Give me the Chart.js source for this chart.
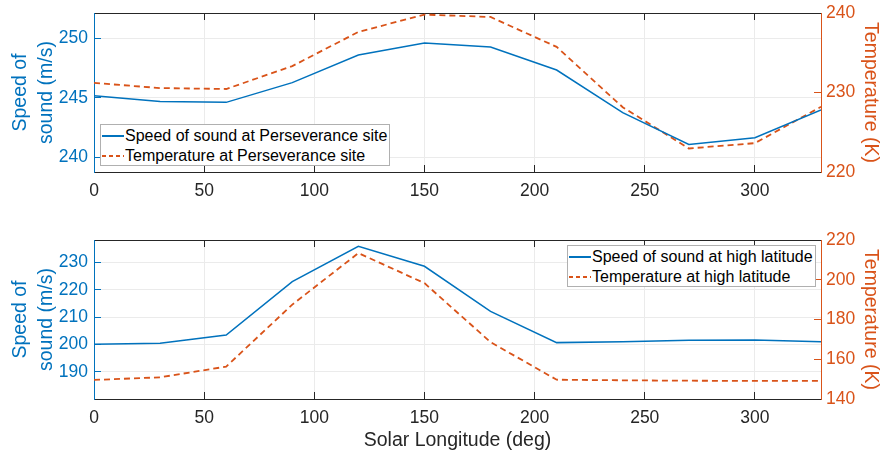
<!DOCTYPE html>
<html>
<head>
<meta charset="utf-8">
<script src="https://cdn.jsdelivr.net/npm/chart.js@4.4.1/dist/chart.umd.min.js"></script>
<style>
  html, body { margin: 0; padding: 0; background: #ffffff; }
  body { width: 890px; height: 454px; position: relative; overflow: hidden;
         font-family: "Liberation Sans", Arial, Helvetica, sans-serif; }
  .panel { position: absolute; left: 0; width: 890px; }
  canvas { display: block; }
  .legend { position: absolute; background: #ffffff; border: 1px solid #b0b0b0;
            box-sizing: border-box; font-size: 16px; color: #000000; }
  .legend .row { position: absolute; left: 0; height: 20px; display: flex;
                 align-items: center; white-space: nowrap; }
  .legend svg { display: block; }
</style>
</head>
<body>
<div class="panel" style="top:0;height:205px"><canvas id="topPanel" width="890" height="205"></canvas></div>
<div class="panel" style="top:205px;height:249px"><canvas id="lowPanel" width="890" height="249"></canvas></div>
<div id="topLegend" class="legend" style="left:100px;top:124px;width:290px;height:42px"></div>
<div id="lowLegend" class="legend" style="left:567px;top:245px;width:249px;height:42px"></div>

<script>
// Solar longitude samples (deg)
const solarLongitude = [0, 30, 60, 90, 120, 150, 180, 210, 240, 270, 300, 330];

// Perseverance site
const soundPerseverance = [245.19, 244.71, 244.63, 246.29, 248.61, 249.62, 249.29, 247.35, 243.76, 241.08, 241.66, 243.99];
const tempPerseverance  = [231.2, 230.56, 230.44, 233.32, 237.62, 239.8, 239.5, 235.74, 228.15, 222.96, 223.63, 228.2];

// High latitude
const soundHighLat = [200.1, 200.5, 203.5, 223.0, 235.9, 228.6, 212.1, 200.7, 201.0, 201.6, 201.7, 201.0];
const tempHighLat  = [149.6, 150.9, 156.3, 187.5, 213.4, 198.3, 168.6, 149.7, 149.4, 149.2, 149.1, 149.1];

// Tick values
const xTicks        = [0, 50, 100, 150, 200, 250, 300];
const topSoundTicks = [240, 245, 250];
const topTempTicks  = [220, 230, 240];
const lowSoundTicks = [190, 200, 210, 220, 230];
const lowTempTicks  = [140, 160, 180, 200, 220];

// Legend / axis texts
const topLabels = ['Speed of sound at Perseverance site', 'Temperature at Perseverance site'];
const lowLabels = ['Speed of sound at high latitude', 'Temperature at high latitude'];
const soundTitle = ['Speed of', 'sound (m/s)'];
const tempTitle = 'Temperature (K)';
const xTitle = 'Solar Longitude (deg)';

const BLUE = '#0072BD';
const RED = '#D95319';
const DARK = '#262626';
const GRID = '#ebebeb';
const FAMILY = '"Liberation Sans", Arial, Helvetica, sans-serif';
const TICK_FONT = { family: FAMILY, size: 17.5, lineHeight: 1.2 };
const TITLE_FONT = { family: FAMILY, size: 19.5, lineHeight: 1.3 };

function pairs(values) {
  return solarLongitude.map((x, i) => ({ x: x, y: values[i] }));
}

function fixedTicks(values) {
  return function (scale) { scale.ticks = values.map(v => ({ value: v })); };
}

// Fixed scale thickness; label overhang must not push the plot area around
function fixedSize(prop, size) {
  return function (s) {
    s[prop] = size;
    s.paddingTop = 0; s.paddingBottom = 0; s.paddingLeft = 0; s.paddingRight = 0;
  };
}

function buildPanel(canvasId, cfg) {
  return new Chart(document.getElementById(canvasId), {
    type: 'line',
    data: {
      datasets: [
        { label: cfg.labels[0], data: pairs(cfg.sound), xAxisID: 'x', yAxisID: 'y',
          borderColor: BLUE, borderWidth: 1.5, pointRadius: 0, tension: 0, fill: false },
        { label: cfg.labels[1], data: pairs(cfg.temp), xAxisID: 'x', yAxisID: 'y2',
          borderColor: RED, borderWidth: 1.8, borderDash: [6, 4], pointRadius: 0, tension: 0, fill: false }
      ]
    },
    options: {
      responsive: false,
      animation: false,
      devicePixelRatio: 1,
      layout: { autoPadding: false, padding: { top: cfg.padTop, left: 0, right: 0, bottom: 0 } },
      plugins: { legend: { display: false }, tooltip: { enabled: false } },
      scales: {
        x: {
          type: 'linear', position: 'bottom', min: 0, max: 330,
          afterBuildTicks: fixedTicks(xTicks),
          afterFit: fixedSize('height', cfg.xHeight),
          grid: {
            color: c => (c.tick && c.tick.value === 0) ? 'rgba(0,0,0,0)' : GRID,
            lineWidth: 1, tickLength: -7, tickColor: DARK
          },
          border: { color: DARK, width: 1 },
          ticks: { color: DARK, font: TICK_FONT, padding: 15.5, maxRotation: 0, autoSkip: false },
          title: cfg.showXTitle
            ? { display: true, text: xTitle, color: DARK, font: TITLE_FONT, padding: { top: 0, bottom: 1 } }
            : { display: false }
        },
        xTop: {
          type: 'linear', position: 'top', min: 0, max: 330,
          afterBuildTicks: fixedTicks(xTicks),
          afterFit: fixedSize('height', 0),
          grid: { drawOnChartArea: false, tickLength: -7, tickColor: DARK },
          border: { color: DARK, width: 1 },
          ticks: { display: false, autoSkip: false }
        },
        y: {
          type: 'linear', position: 'left', min: cfg.soundRange[0], max: cfg.soundRange[1],
          afterBuildTicks: fixedTicks(cfg.soundTicks),
          afterFit: fixedSize('width', 94),
          grid: { color: GRID, lineWidth: 1, tickLength: -7, tickColor: BLUE },
          border: { color: BLUE, width: 1 },
          ticks: { color: BLUE, font: TICK_FONT, padding: 13, autoSkip: false },
          title: { display: true, text: soundTitle, color: BLUE, font: TITLE_FONT, padding: { top: 8.3, bottom: 0 } }
        },
        y2: {
          type: 'linear', position: 'right', min: cfg.tempRange[0], max: cfg.tempRange[1],
          afterBuildTicks: fixedTicks(cfg.tempTicks),
          afterFit: fixedSize('width', 69),
          grid: { drawOnChartArea: false, tickLength: -7, tickColor: RED },
          border: { color: RED, width: 1 },
          ticks: { color: RED, font: TICK_FONT, padding: 12, autoSkip: false },
          title: { display: true, text: tempTitle, color: RED, font: TITLE_FONT, padding: { top: 7.3, bottom: 0 } }
        }
      }
    }
  });
}

function buildLegend(el, chart) {
  chart.data.datasets.forEach((ds, i) => {
    const row = document.createElement('div');
    row.className = 'row';
    row.style.top = (1 + 20 * i) + 'px';
    const dash = ds.borderDash ? ' stroke-dasharray="4 3"' : '';
    row.innerHTML =
      '<svg width="23" height="20"><line x1="1" y1="10" x2="23" y2="10" stroke="' + ds.borderColor +
      '" stroke-width="2"' + dash + '/></svg>' +
      '<span style="margin-left:1px">' + ds.label + '</span>';
    el.appendChild(row);
  });
}

const topChart = buildPanel('topPanel', {
  labels: topLabels, sound: soundPerseverance, temp: tempPerseverance,
  soundRange: [238.77, 252.15], tempRange: [220, 240],
  soundTicks: topSoundTicks, tempTicks: topTempTicks,
  padTop: 13, xHeight: 33, showXTitle: false
});

const lowChart = buildPanel('lowPanel', {
  labels: lowLabels, sound: soundHighLat, temp: tempHighLat,
  soundRange: [180.1, 238.2], tempRange: [140, 220],
  soundTicks: lowSoundTicks, tempTicks: lowTempTicks,
  padTop: 35, xHeight: 55, showXTitle: true
});

buildLegend(document.getElementById('topLegend'), topChart);
buildLegend(document.getElementById('lowLegend'), lowChart);
</script>
</body>
</html>
